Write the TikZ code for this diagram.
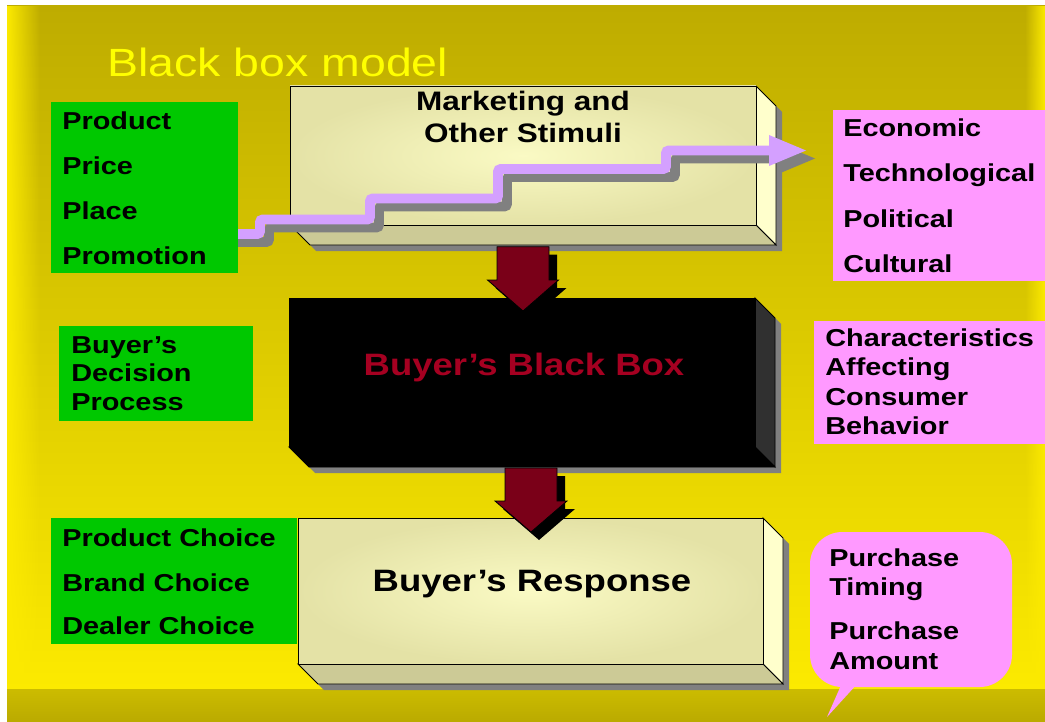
\documentclass[tikz,border=0pt]{standalone}
\usepackage{fontspec}
\setmainfont{Liberation Sans}[FakeStretch=1.18]
\usetikzlibrary{calc, fit, fadings}
\definecolor{bgTop}{RGB}{190, 172, 0}
\definecolor{bgMid}{RGB}{208, 192, 0}
\definecolor{bgLow}{RGB}{252, 234, 0}
\definecolor{bgBandTop}{RGB}{204, 188, 0}
\definecolor{bgBandLow}{RGB}{186, 170, 0}
\definecolor{titleYellow}{RGB}{255, 255, 0}
\definecolor{mixGreen}{RGB}{0, 200, 0}
\definecolor{envPink}{RGB}{255, 153, 255}
\definecolor{stairLilac}{RGB}{212, 160, 255}
\definecolor{shadowGrey}{RGB}{128, 128, 128}
\definecolor{faceLight}{RGB}{250, 250, 196}
\definecolor{faceEdge}{RGB}{228, 226, 166}
\definecolor{faceSide}{RGB}{255, 255, 204}
\definecolor{faceBottom}{RGB}{204, 202, 150}
\definecolor{darkSide}{RGB}{48, 48, 48}
\definecolor{pushRed}{RGB}{122, 0, 24}
\definecolor{boxRed}{RGB}{165, 0, 33}
\newcommand{\lTitle}{Black box model}
\newcommand{\lStimA}{Marketing and}
\newcommand{\lStimB}{Other Stimuli}
\newcommand{\lBlackBox}{Buyer’s Black Box}
\newcommand{\lResponse}{Buyer’s Response}
% front face, side face, bottom face and shadow of one raised box
\newcommand{\solidbox}[6]{%
    \path #2 coordinate (#1 nw) #3 coordinate (#1 se);
    \path (#1 nw -| #1 se) coordinate (#1 ne) (#1 nw |- #1 se) coordinate (#1 sw);
    \fill[shadowGrey] ($(#1 nw)+(6,6)$) -- ($(#1 ne)+(6,6)$) -- ($(#1 ne)+(26,26)$) -- ($(#1 se)+(26,26)$) -- ($(#1 sw)+(26,26)$) -- ($(#1 sw)+(6,6)$) -- cycle;
    \filldraw[face line, fill=#5] (#1 ne) -- ($(#1 ne)+(20,20)$) -- ($(#1 se)+(20,20)$) -- (#1 se) -- cycle;
    \filldraw[face line, fill=#6] (#1 sw) -- (#1 se) -- ($(#1 se)+(20,20)$) -- ($(#1 sw)+(20,20)$) -- cycle;
    \node[#4, fit=(#1 nw) (#1 se)] (#1) {};
}

\begin{document}
\begin{tikzpicture} [
        x=0.025cm, y=-0.025cm,
        face line/.style={draw=black, line width=0.6pt},
        front face/.style={face line, inner sep=0pt, outer sep=0pt, inner color=faceLight, outer color=faceEdge},
        dark face/.style={face line, inner sep=0pt, outer sep=0pt, fill=black},
        panel/.style={inner sep=0pt, outer sep=0pt},
        mix panel/.style={panel, fill=mixGreen},
        env panel/.style={panel, fill=envPink},
        item/.style={anchor=base west, inner sep=0pt, font=\fontsize{17.4}{20}\selectfont\bfseries},
        head/.style={anchor=base, inner sep=0pt, font=\fontsize{19}{22}\selectfont\bfseries},
        big head/.style={anchor=base, inner sep=0pt, font=\fontsize{22}{26}\selectfont\bfseries},
        label title/.style={anchor=base west, inner sep=0pt, font=\fontsize{28}{32}\selectfont, text=titleYellow},
        stair/.style={line width=7pt, rounded corners=2pt},
        push arrow/.style={fill=pushRed, draw=black, line width=0.6pt}
    ]

    \useasboundingbox (0,0) rectangle (1045,722);

    % background
    \fill[white] (0,0) rectangle (1045,722);
    \shade[top color=bgTop, middle color=bgMid, bottom color=bgLow] (7,6) rectangle (1045,689);
    \fill[bgLow, path fading=east] (7,6) rectangle (40,689);
    \fill[bgLow, path fading=west] (1025,6) rectangle (1045,689);
    \shade[top color=bgBandTop, bottom color=bgBandLow] (7,689) rectangle (1045,722);

    \path (107,77) node[label title] (title) {\lTitle};

    % stimuli box
    \solidbox{stim}{(290,86)}{(756,225)}{front face}{faceSide}{faceBottom}
    \path (stim.north) ++(0,24.5) node[head] (l stim a) {\lStimA} ++(0,32) node[head] (l stim b) {\lStimB};

    \begin{scope}[shift={(9,8)}, shadowGrey]
        \draw[stair] (200,234) -| (260,219.5) -| (370,198.5) -| (498,169) -| (666,150.5) -- (772,150.5);
        \fill (769,135) -- (806,150.5) -- (769,166) -- cycle;
    \end{scope}
    \draw[stair, stairLilac] (200,234) -| (260,219.5) -| (370,198.5) -| (498,169) -| (666,150.5) -- (772,150.5);
    \fill[stairLilac] (769,135) -- (806,150.5) -- (769,166) -- cycle;

    % black box and response box
    \solidbox{bbox}{(289,298)}{(755,447)}{dark face}{darkSide}{black}
    \path (bbox.center) ++(2,2.5) node[big head, text=boxRed] (l black box) {\lBlackBox};

    \node[mix panel, fit={(51,518) (297,644)}] (choice box) {};
    \solidbox{resp}{(298,518)}{(763,664)}{front face}{faceSide}{faceBottom}
    \path (resp.center) ++(1.5,0.7) node[big head] (l response) {\lResponse};

    % panels
    \node[mix panel, fit={(51,102) (238,273)}] (mix box) {};
    \node[mix panel, fit={(59,326) (253,421)}] (process box) {};
    \node[env panel, fit={(833,110) (1045,281)}] (env box) {};
    \node[env panel, fit={(814,321) (1045,444)}] (trait box) {};
    \node[env panel, rounded corners=23pt, fit={(810,532) (1012,687)}] (amount call) {};
    \coordinate (call tip) at (827,717);
    \fill[envPink] (amount call.south west) ++(32,-4) -- ++(16,0) -- (call tip) -- cycle;

    \path (mix box.north west) ++(11,28) node[item] (l product) {Product}
        ++(0,44.7) node[item] (l price) {Price}
        ++(0,44.3) node[item] (l place) {Place}
        ++(0,45) node[item] (l promotion) {Promotion};
    \path (process box.north west) ++(12,27) node[item] (l buyer) {Buyer’s}
        ++(0,28.5) node[item] (l decision) {Decision}
        ++(0,28.5) node[item] (l process) {Process};
    \path (choice box.north west) ++(11,28) node[item] (l product choice) {Product Choice}
        ++(0,45) node[item] (l brand choice) {Brand Choice}
        ++(0,43.5) node[item] (l dealer choice) {Dealer Choice};
    \path (env box.north west) ++(10,27) node[item] (l economic) {Economic}
        ++(0,45) node[item] (l technological) {Technological}
        ++(0,45) node[item] (l political) {Political}
        ++(0,45) node[item] (l cultural) {Cultural};
    \path (trait box.north west) ++(11,25.7) node[item] (l characteristics) {Characteristics}
        ++(0,29.2) node[item] (l affecting) {Affecting}
        ++(0,29.2) node[item] (l consumer) {Consumer}
        ++(0,29.2) node[item] (l behavior) {Behavior};
    \path (amount call.north west) ++(19,34.7) node[item] (l purchase a) {Purchase}
        ++(0,28.5) node[item] (l timing) {Timing}
        ++(0,44.3) node[item] (l purchase b) {Purchase}
        ++(0,29.5) node[item] (l amount) {Amount};

    % block arrows
    \coordinate (push a) at ($(stim.south)+(0,21.7)$);
    \coordinate (push b) at ($(resp.north)+(0.5,-50)$);
    \fill[black] ($(push a)+(8,8)$) ++(-26,0) -- ++(52,0) -- ++(0,33.3) -- ++(9.5,0) -- ++(-35.5,31) -- ++(-35.5,-31) -- ++(9.5,0) -- cycle;
    \filldraw[push arrow] (push a) ++(-26,0) -- ++(52,0) -- ++(0,33.3) -- ++(9.5,0) -- ++(-35.5,31) -- ++(-35.5,-31) -- ++(9.5,0) -- cycle;
    \fill[black] ($(push b)+(8,8)$) ++(-26,0) -- ++(52,0) -- ++(0,33) -- ++(10,0) -- ++(-36,31) -- ++(-36,-31) -- ++(10,0) -- cycle;
    \filldraw[push arrow] (push b) ++(-26,0) -- ++(52,0) -- ++(0,33) -- ++(10,0) -- ++(-36,31) -- ++(-36,-31) -- ++(10,0) -- cycle;

\end{tikzpicture}
\end{document}
